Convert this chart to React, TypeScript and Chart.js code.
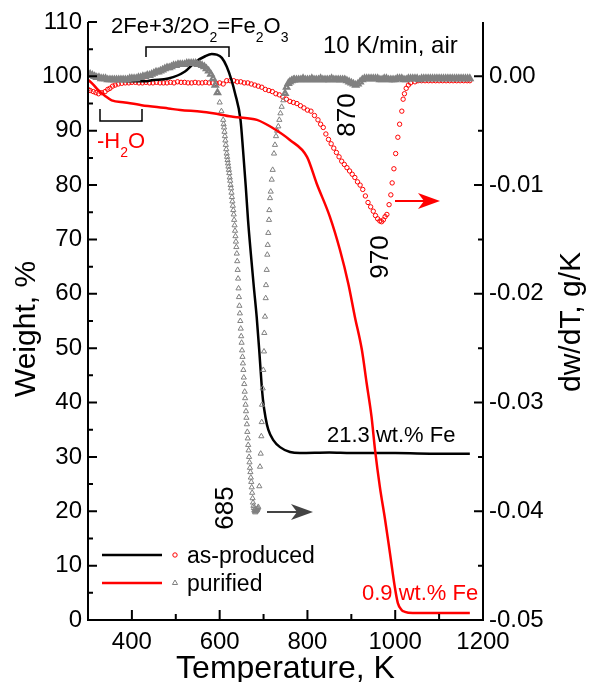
import React, { useEffect, useRef } from 'react';
import { Chart, registerables } from 'chart.js';

Chart.register(...registerables);

const FONT = '"Liberation Sans", Arial, Helvetica, sans-serif';

// Axis ticks
const tempTicks = [400, 600, 800, 1000, 1200];
const tempMinorTicks = [500, 700, 900, 1100];
const weightTicks = [0, 10, 20, 30, 40, 50, 60, 70, 80, 90, 100, 110];
const weightMinorTicks = [5, 15, 25, 35, 45, 55, 65, 75, 85, 95, 105];
const dwTicks = [0, -0.01, -0.02, -0.03, -0.04, -0.05];
const dwMinorTicks = [-0.005, -0.015, -0.025, -0.035, -0.045];

// as-produced weight (black line)
const asProducedT = [300, 330, 360, 400, 430, 445, 483, 521, 544, 567, 582, 593, 605, 616, 627, 635, 647.5, 653.2, 659.5, 664.6, 670.9, 677.8, 684.4, 690.1, 695.3, 698.7, 704.4, 710.8, 722.2, 737.5, 760.3, 783, 850, 900, 1000, 1100, 1170];
const asProducedW = [100.0, 99.6, 99.3, 99.1, 99.1, 99.3, 99.6, 100.9, 102.6, 103.7, 104.1, 104.0, 103.4, 101.8, 99.3, 96.9, 92.0, 86.5, 79.7, 73.6, 67.5, 61.3, 55.7, 49.7, 43.6, 40.5, 37.3, 35.0, 33.1, 31.8, 30.9, 30.7, 30.8, 30.7, 30.7, 30.6, 30.6];

// purified weight (red line)
const purifiedT = [300, 312, 323, 339, 354, 384, 422, 483, 510, 559, 585, 627, 640, 685, 721, 760, 799, 821, 851, 874, 893, 908, 924, 935, 946, 954, 965, 977, 988, 999, 1006, 1014, 1022, 1040, 1100, 1170];
const purifiedW = [99.4, 98.5, 97.5, 96.4, 95.6, 95.2, 94.7, 94.1, 93.8, 93.5, 93.2, 92.6, 92.5, 92.0, 90.5, 88.3, 85.2, 80.3, 74.2, 68.1, 61.9, 55.8, 49.7, 43.5, 37.4, 31.3, 24.5, 18.4, 12.3, 6.1, 3.1, 1.9, 1.5, 1.3, 1.3, 1.3];

// red open circles (dw/dT)
const circleT = [300, 305, 312, 318, 324, 331, 339, 345, 350, 356, 362, 369, 377, 385, 393, 400, 408, 416, 424, 432, 440, 448, 456, 464, 472, 480, 488, 496, 504, 512, 520, 528, 536, 544, 552, 560, 568, 576, 584, 592, 600, 608, 616, 624, 632, 640, 648, 656, 664, 672, 680, 688, 696, 704, 712, 720, 728, 736, 744, 752, 760, 768, 776, 784, 792, 800, 808, 816, 824, 830, 836, 842, 848, 854, 860, 866, 872, 878, 884, 890, 896, 902, 908, 914, 920, 926, 932, 938, 944, 950, 955, 960, 965, 969, 973, 977, 981, 986, 990, 993, 997, 1001, 1006, 1010, 1015, 1018, 1021, 1025, 1030, 1035, 1045, 1052, 1060, 1068, 1076, 1084, 1092, 1100, 1108, 1116, 1124, 1132, 1140, 1148, 1156, 1164, 1170];
const circleD = [-0.0012, -0.0013, -0.0014, -0.0015, -0.0016, -0.0015, -0.0014, -0.0012, -0.0011, -0.0009, -0.0008, -0.0007, -0.00064, -0.0006, -0.0006, -0.00055, -0.00055, -0.0006, -0.0006, -0.00055, -0.0006, -0.0006, -0.00055, -0.0006, -0.0006, -0.0006, -0.00055, -0.0006, -0.0005, -0.00055, -0.00055, -0.0006, -0.0006, -0.00055, -0.0006, -0.0006, -0.00055, -0.0006, -0.0006, -0.00065, -0.0006, -0.0007, -0.0004, -0.0004, -0.0004, -0.0005, -0.0005, -0.0006, -0.0006, -0.0007, -0.0008, -0.0009, -0.0010, -0.0012, -0.0013, -0.0014, -0.0016, -0.0017, -0.0019, -0.0021, -0.0023, -0.0024, -0.0025, -0.0027, -0.0029, -0.0031, -0.0032, -0.0036, -0.0040, -0.0044, -0.0047, -0.0053, -0.0058, -0.0062, -0.0066, -0.0070, -0.0074, -0.0078, -0.0081, -0.0084, -0.0087, -0.0090, -0.0093, -0.0097, -0.0100, -0.0104, -0.0110, -0.0116, -0.0120, -0.0124, -0.0128, -0.0131, -0.0133, -0.01337, -0.0132, -0.0129, -0.0127, -0.0118, -0.0109, -0.0098, -0.0085, -0.0071, -0.0056, -0.0044, -0.0032, -0.0021, -0.0016, -0.0011, -0.0008, -0.0006, -0.0005, -0.0004, -0.0004, -0.0004, -0.0004, -0.0004, -0.0004, -0.0004, -0.0004, -0.0004, -0.0004, -0.0004, -0.0004, -0.0004, -0.0004, -0.0004, -0.0004];

// gray open triangles (dw/dT)
const triangleT = [300, 305, 310, 315, 320, 325, 330, 335, 340, 345, 350, 355, 360, 365, 370, 375, 380, 385, 390, 395, 400, 405, 410, 415, 420, 425, 430, 435, 440, 445, 450, 455, 460, 465, 470, 475, 480, 485, 490, 495, 500, 505, 510, 515, 520, 525, 530, 535, 540, 545, 550, 555, 560, 565, 570, 575, 580, 585, 590, 595, 600, 604,
  608, 609, 610, 611, 612, 613, 614, 615, 616, 617, 618, 619, 620, 621, 622, 623, 624, 625, 626, 627, 628, 629, 630, 631, 632, 633, 634, 635, 636, 637, 638, 639, 640, 641, 642, 643, 644, 645, 646, 647, 648, 649, 650, 651, 652, 653, 654, 655, 656, 657, 658, 659, 660, 661, 662, 663, 664, 665, 666, 667, 668, 669, 670, 671, 672, 673, 674, 675, 676, 677, 678, 679, 680, 681, 682, 683, 684, 685, 686, 687, 688,
  690.3, 691.9, 693.5, 694.9, 695.8, 696.5, 698.1, 699.4, 701, 701.7, 703.3, 704.9, 705.6, 707.2, 708.5, 709.5, 710.8, 712.4, 713.1, 714.7, 716.3, 718.6, 720.8, 723.8, 726, 728.4, 731, 733.6, 735.9, 738.5, 741.3, 745, 748.9, 752.5, 756.4, 760, 764, 767.8,
  770, 775, 780, 785, 790, 795, 800, 805, 810, 815, 820, 825, 830, 835, 840, 845, 850, 855, 860, 865, 870, 875, 880, 885, 890, 895, 900, 905, 910, 915, 920, 925, 930, 935, 940, 945, 950, 955, 960, 965, 970, 975, 980, 985, 990, 995, 1000, 1005, 1010, 1015, 1020, 1025, 1030, 1035, 1040, 1045, 1050, 1055, 1060, 1065, 1070, 1075, 1080, 1085, 1090, 1095, 1100, 1105, 1110, 1115, 1120, 1125, 1130, 1135, 1140, 1145, 1150, 1155, 1160, 1165, 1170];
const triangleD = [0.0003, 0.0002, 0.0001, 0.0000, -0.0001, -0.0001, -0.0002, -0.0002, -0.0002, -0.0003, -0.0003, -0.0003, -0.0003, -0.0003, -0.0003, -0.0003, -0.0003, -0.0003, -0.0003, -0.0002, -0.0002, -0.0002, -0.0002, -0.0001, -0.0001, 0.0000, 0.0000, 0.0001, 0.0001, 0.0002, 0.0003, 0.0004, 0.0004, 0.0005, 0.0006, 0.0007, 0.0008, 0.0008, 0.0009, 0.0010, 0.0010, 0.0011, 0.0011, 0.0011, 0.0011, 0.0012, 0.0012, 0.0012, 0.0012, 0.0012, 0.0011, 0.0011, 0.0010, 0.0009, 0.0007, 0.0005, 0.0002, -0.0002, -0.0008, -0.0015, -0.0024, -0.0032,
  -0.0040, -0.0044, -0.0047, -0.0051, -0.0055, -0.0059, -0.0063, -0.0067, -0.0071, -0.0074, -0.0077, -0.0080, -0.0083, -0.0086, -0.0089, -0.0093, -0.0096, -0.0100, -0.0103, -0.0107, -0.0111, -0.0115, -0.0119, -0.0123, -0.0127, -0.0132, -0.0137, -0.0142, -0.0147, -0.0152, -0.0157, -0.0163, -0.0170, -0.0178, -0.0186, -0.0195, -0.0203, -0.0211, -0.0218, -0.0225, -0.0232, -0.0239, -0.0245, -0.0252, -0.0258, -0.0264, -0.0270, -0.0277, -0.0283, -0.0290, -0.0296, -0.0302, -0.0308, -0.0314, -0.0320, -0.0327, -0.0333, -0.0339, -0.0344, -0.0350, -0.0355, -0.0360, -0.0364, -0.0369, -0.0373, -0.0378, -0.0383, -0.0388, -0.0392, -0.0395, -0.0397, -0.0399, -0.0400, -0.0401, -0.0400, -0.0400, -0.0399, -0.0399, -0.0398, -0.0397, -0.0396,
  -0.0377, -0.0359, -0.0347, -0.0331, -0.0318, -0.0302, -0.0287, -0.0270, -0.0253, -0.0236, -0.0221, -0.0204, -0.0192, -0.0178, -0.0164, -0.0155, -0.0144, -0.0132, -0.0123, -0.0112, -0.0106, -0.0095, -0.0086, -0.0071, -0.0063, -0.0055, -0.0050, -0.0046, -0.0040, -0.0034, -0.0028, -0.0022, -0.00156, -0.0010, -0.00064, -0.0005, -0.0004, -0.00033,
  -0.0003, -0.0003, -0.0003, -0.0003, -0.0002, -0.0003, -0.0003, -0.0003, -0.0002, -0.0003, -0.0003, -0.0003, -0.0002, -0.0003, -0.0003, -0.0003, -0.0003, -0.0002, -0.0003, -0.0003, -0.0003, -0.0003, -0.0003, -0.0003, -0.0004, -0.0005, -0.0006, -0.0007, -0.0008, -0.0007, -0.0005, -0.0003, -0.0002, -0.0002, -0.0002, -0.0002, -0.0002, -0.0002, -0.0002, -0.0003, -0.0003, -0.0002, -0.0002, -0.0003, -0.0003, -0.0003, -0.0003, -0.0002, -0.0002, -0.0002, -0.0003, -0.0003, -0.0002, -0.0002, -0.0002, -0.0002, -0.0002, -0.0003, -0.0002, -0.0002, -0.0002, -0.0002, -0.0002, -0.0002, -0.0002, -0.0002, -0.0002, -0.0002, -0.0002, -0.0002, -0.0002, -0.0002, -0.0002, -0.0002, -0.0002, -0.0002, -0.0002, -0.0002, -0.0002, -0.0002, -0.0002];

const seriesNames = ['as-produced', 'purified'];

const pts = (xs: number[], ys: number[]) => xs.map((x, i) => ({ x, y: ys[i] }));

type Seg = [string, boolean];

function drawSegs(ctx: CanvasRenderingContext2D, segs: Seg[], x: number, y: number, size: number, subSize: number, subOff: number) {
  let cx = x;
  ctx.textAlign = 'left';
  ctx.textBaseline = 'alphabetic';
  for (const [t, isSub] of segs) {
    ctx.font = `${isSub ? subSize : size}px ${FONT}`;
    ctx.fillText(t, cx, isSub ? y + subOff : y);
    cx += ctx.measureText(t).width;
  }
}

function rotText(ctx: CanvasRenderingContext2D, t: string, x: number, y: number, size: number, color = '#000') {
  ctx.save();
  ctx.translate(x, y);
  ctx.rotate(-Math.PI / 2);
  ctx.font = `${size}px ${FONT}`;
  ctx.fillStyle = color;
  ctx.textAlign = 'center';
  ctx.textBaseline = 'middle';
  ctx.fillText(t, 0, 0);
  ctx.restore();
}

function arrow(ctx: CanvasRenderingContext2D, x0: number, x1: number, y: number, color: string) {
  ctx.save();
  ctx.strokeStyle = color;
  ctx.fillStyle = color;
  ctx.lineWidth = 2;
  ctx.beginPath();
  ctx.moveTo(x0, y);
  ctx.lineTo(x1 - 12, y);
  ctx.stroke();
  ctx.beginPath();
  ctx.moveTo(x1, y);
  ctx.lineTo(x1 - 22, y - 8);
  ctx.lineTo(x1 - 16, y);
  ctx.lineTo(x1 - 22, y + 8);
  ctx.closePath();
  ctx.fill();
  ctx.restore();
}

const decorPlugin = {
  id: 'decor',
  afterDraw(chart: any) {
    const { ctx, chartArea: a, scales } = chart;
    const sx = scales.x, yl = scales.y, yr = scales.y1;
    ctx.save();
    // axes frame (left, bottom, right)
    ctx.strokeStyle = '#000';
    ctx.lineWidth = 2;
    ctx.beginPath();
    ctx.moveTo(a.left, a.top);
    ctx.lineTo(a.left, a.bottom);
    ctx.lineTo(a.right, a.bottom);
    ctx.lineTo(a.right, a.top);
    ctx.stroke();
    // ticks inside
    ctx.beginPath();
    for (const v of weightTicks) { const p = yl.getPixelForValue(v); ctx.moveTo(a.left, p); ctx.lineTo(a.left + 9, p); }
    for (const v of weightMinorTicks) { const p = yl.getPixelForValue(v); ctx.moveTo(a.left, p); ctx.lineTo(a.left + 5, p); }
    for (const v of dwTicks) { const p = yr.getPixelForValue(v); ctx.moveTo(a.right, p); ctx.lineTo(a.right - 9, p); }
    for (const v of dwMinorTicks) { const p = yr.getPixelForValue(v); ctx.moveTo(a.right, p); ctx.lineTo(a.right - 5, p); }
    for (const v of tempTicks) { const p = sx.getPixelForValue(v); ctx.moveTo(p, a.bottom); ctx.lineTo(p, a.bottom - 10); }
    for (const v of tempMinorTicks) { const p = sx.getPixelForValue(v); ctx.moveTo(p, a.bottom); ctx.lineTo(p, a.bottom - 6); }
    ctx.stroke();

    // axis titles
    ctx.fillStyle = '#000';
    ctx.font = `32px ${FONT}`;
    ctx.textAlign = 'center';
    ctx.textBaseline = 'alphabetic';
    ctx.fillText('Temperature, K', (a.left + a.right) / 2, 678);
    rotText(ctx, 'Weight, %', 27, 329, 30);
    rotText(ctx, 'dw/dT, g/K', 572, 322, 30);

    // formula + bracket
    ctx.fillStyle = '#000';
    drawSegs(ctx, [['2Fe+3/2O', false], ['2', true], ['=Fe', false], ['2', true], ['O', false], ['3', true]], 111, 33, 22, 14, 9);
    ctx.strokeStyle = '#000';
    ctx.lineWidth = 1.5;
    ctx.beginPath();
    ctx.moveTo(146, 57); ctx.lineTo(146, 47); ctx.lineTo(229, 47); ctx.lineTo(229, 57);
    ctx.stroke();
    ctx.font = `24px ${FONT}`;
    ctx.textAlign = 'left';
    ctx.fillText('10 K/min, air', 323, 53);

    // -H2O
    ctx.fillStyle = '#ff0000';
    drawSegs(ctx, [['-H', false], ['2', true], ['O', false]], 97, 148, 22, 14, 9);
    ctx.strokeStyle = '#000';
    ctx.beginPath();
    ctx.moveTo(100, 109); ctx.lineTo(100, 121); ctx.lineTo(142, 121); ctx.lineTo(142, 109);
    ctx.stroke();

    // peak labels
    rotText(ctx, '870', 348, 115, 26);
    rotText(ctx, '970', 381, 257, 26);
    rotText(ctx, '685', 226, 508, 26);

    arrow(ctx, 395, 440, 201, '#ff0000');
    arrow(ctx, 267, 313, 512, '#444444');

    // residue labels
    ctx.font = `22px ${FONT}`;
    ctx.textAlign = 'left';
    ctx.fillStyle = '#000';
    ctx.fillText('21.3 wt.% Fe', 327, 442);
    ctx.fillStyle = '#ff0000';
    ctx.fillText('0.9 wt.% Fe', 362, 600);

    // legend
    ctx.lineWidth = 2.5;
    ctx.strokeStyle = '#000';
    ctx.beginPath(); ctx.moveTo(102, 555); ctx.lineTo(162, 555); ctx.stroke();
    ctx.strokeStyle = '#ff0000';
    ctx.beginPath(); ctx.moveTo(102, 583); ctx.lineTo(162, 583); ctx.stroke();
    ctx.lineWidth = 1;
    ctx.strokeStyle = '#ff0000';
    ctx.beginPath(); ctx.arc(175, 555, 2.2, 0, Math.PI * 2); ctx.stroke();
    ctx.strokeStyle = '#808080';
    ctx.beginPath(); ctx.moveTo(175, 580); ctx.lineTo(177.6, 584.5); ctx.lineTo(172.4, 584.5); ctx.closePath(); ctx.stroke();
    ctx.fillStyle = '#000';
    ctx.font = `23px ${FONT}`;
    ctx.fillText(seriesNames[0], 187, 563);
    ctx.fillText(seriesNames[1], 187, 591);
    ctx.restore();
  },
};

export default function App() {
  const ref = useRef<HTMLCanvasElement | null>(null);
  useEffect(() => {
    if (!ref.current) return;
    const tickFont = { family: FONT, size: 24 };
    const flatW = (c: any) => (c.raw && Math.abs(c.raw.y) < 0.0016 ? 2.2 : 1);
    const chart = new Chart(ref.current, {
      type: 'scatter',
      data: {
        datasets: [
          { label: 'purified weight', data: pts(purifiedT, purifiedW), yAxisID: 'y', showLine: true, borderColor: '#ff0000', borderWidth: 2.5, pointRadius: 0, cubicInterpolationMode: 'monotone' } as any,
          { label: 'purified dw/dT', data: pts(triangleT, triangleD), yAxisID: 'y1', showLine: false, pointStyle: 'triangle', pointRadius: 3, pointBorderColor: '#808080', borderColor: '#808080', pointBackgroundColor: 'rgba(0,0,0,0)', pointBorderWidth: flatW } as any,
          { label: 'as-produced weight', data: pts(asProducedT, asProducedW), yAxisID: 'y', showLine: true, borderColor: '#000000', borderWidth: 2.5, pointRadius: 0, cubicInterpolationMode: 'monotone' } as any,
          { label: 'as-produced dw/dT', data: pts(circleT, circleD), yAxisID: 'y1', showLine: false, pointStyle: 'circle', pointRadius: 2.2, pointBorderColor: '#ff0000', borderColor: '#ff0000', pointBackgroundColor: 'rgba(0,0,0,0)', pointBorderWidth: 1 } as any,
        ],
      },
      options: {
        responsive: false,
        animation: false,
        devicePixelRatio: 1,
        layout: { padding: { top: 22, left: 0, right: 0, bottom: 0 } },
        plugins: { legend: { display: false }, tooltip: { enabled: false } },
        scales: {
          x: {
            type: 'linear', position: 'bottom', min: 300, max: 1200,
            grid: { display: false, drawTicks: false }, border: { display: false },
            ticks: { font: tickFont, color: '#000', padding: 8, autoSkip: false, maxRotation: 0, callback: (v: any) => String(v) },
            afterBuildTicks: (s: any) => { s.ticks = tempTicks.map((v) => ({ value: v })); },
            afterFit: (s: any) => { s.height = 62; },
          },
          y: {
            type: 'linear', position: 'left', min: 0, max: 110,
            grid: { display: false, drawTicks: false }, border: { display: false },
            ticks: { font: tickFont, color: '#000', padding: 6, callback: (v: any) => String(v) },
            afterBuildTicks: (s: any) => { s.ticks = weightTicks.map((v) => ({ value: v })); },
            afterFit: (s: any) => { s.width = 88; },
          },
          y1: {
            type: 'linear', position: 'right', min: -0.05, max: 0.005,
            grid: { display: false, drawTicks: false }, border: { display: false },
            ticks: { font: tickFont, color: '#000', padding: 6, callback: (v: any) => (Math.abs(v) < 1e-9 ? '0.00' : Number(v).toFixed(2)) },
            afterBuildTicks: (s: any) => { s.ticks = dwTicks.map((v) => ({ value: v })); },
            afterFit: (s: any) => { s.width = 107; },
          },
        },
      } as any,
      plugins: [decorPlugin],
    });
    return () => chart.destroy();
  }, []);
  return (
    <div style={{ position: 'absolute', left: 0, top: 0, width: 590, height: 682, background: '#fff' }}>
      <canvas ref={ref} width={590} height={682} style={{ width: 590, height: 682, display: 'block' }} />
    </div>
  );
}
